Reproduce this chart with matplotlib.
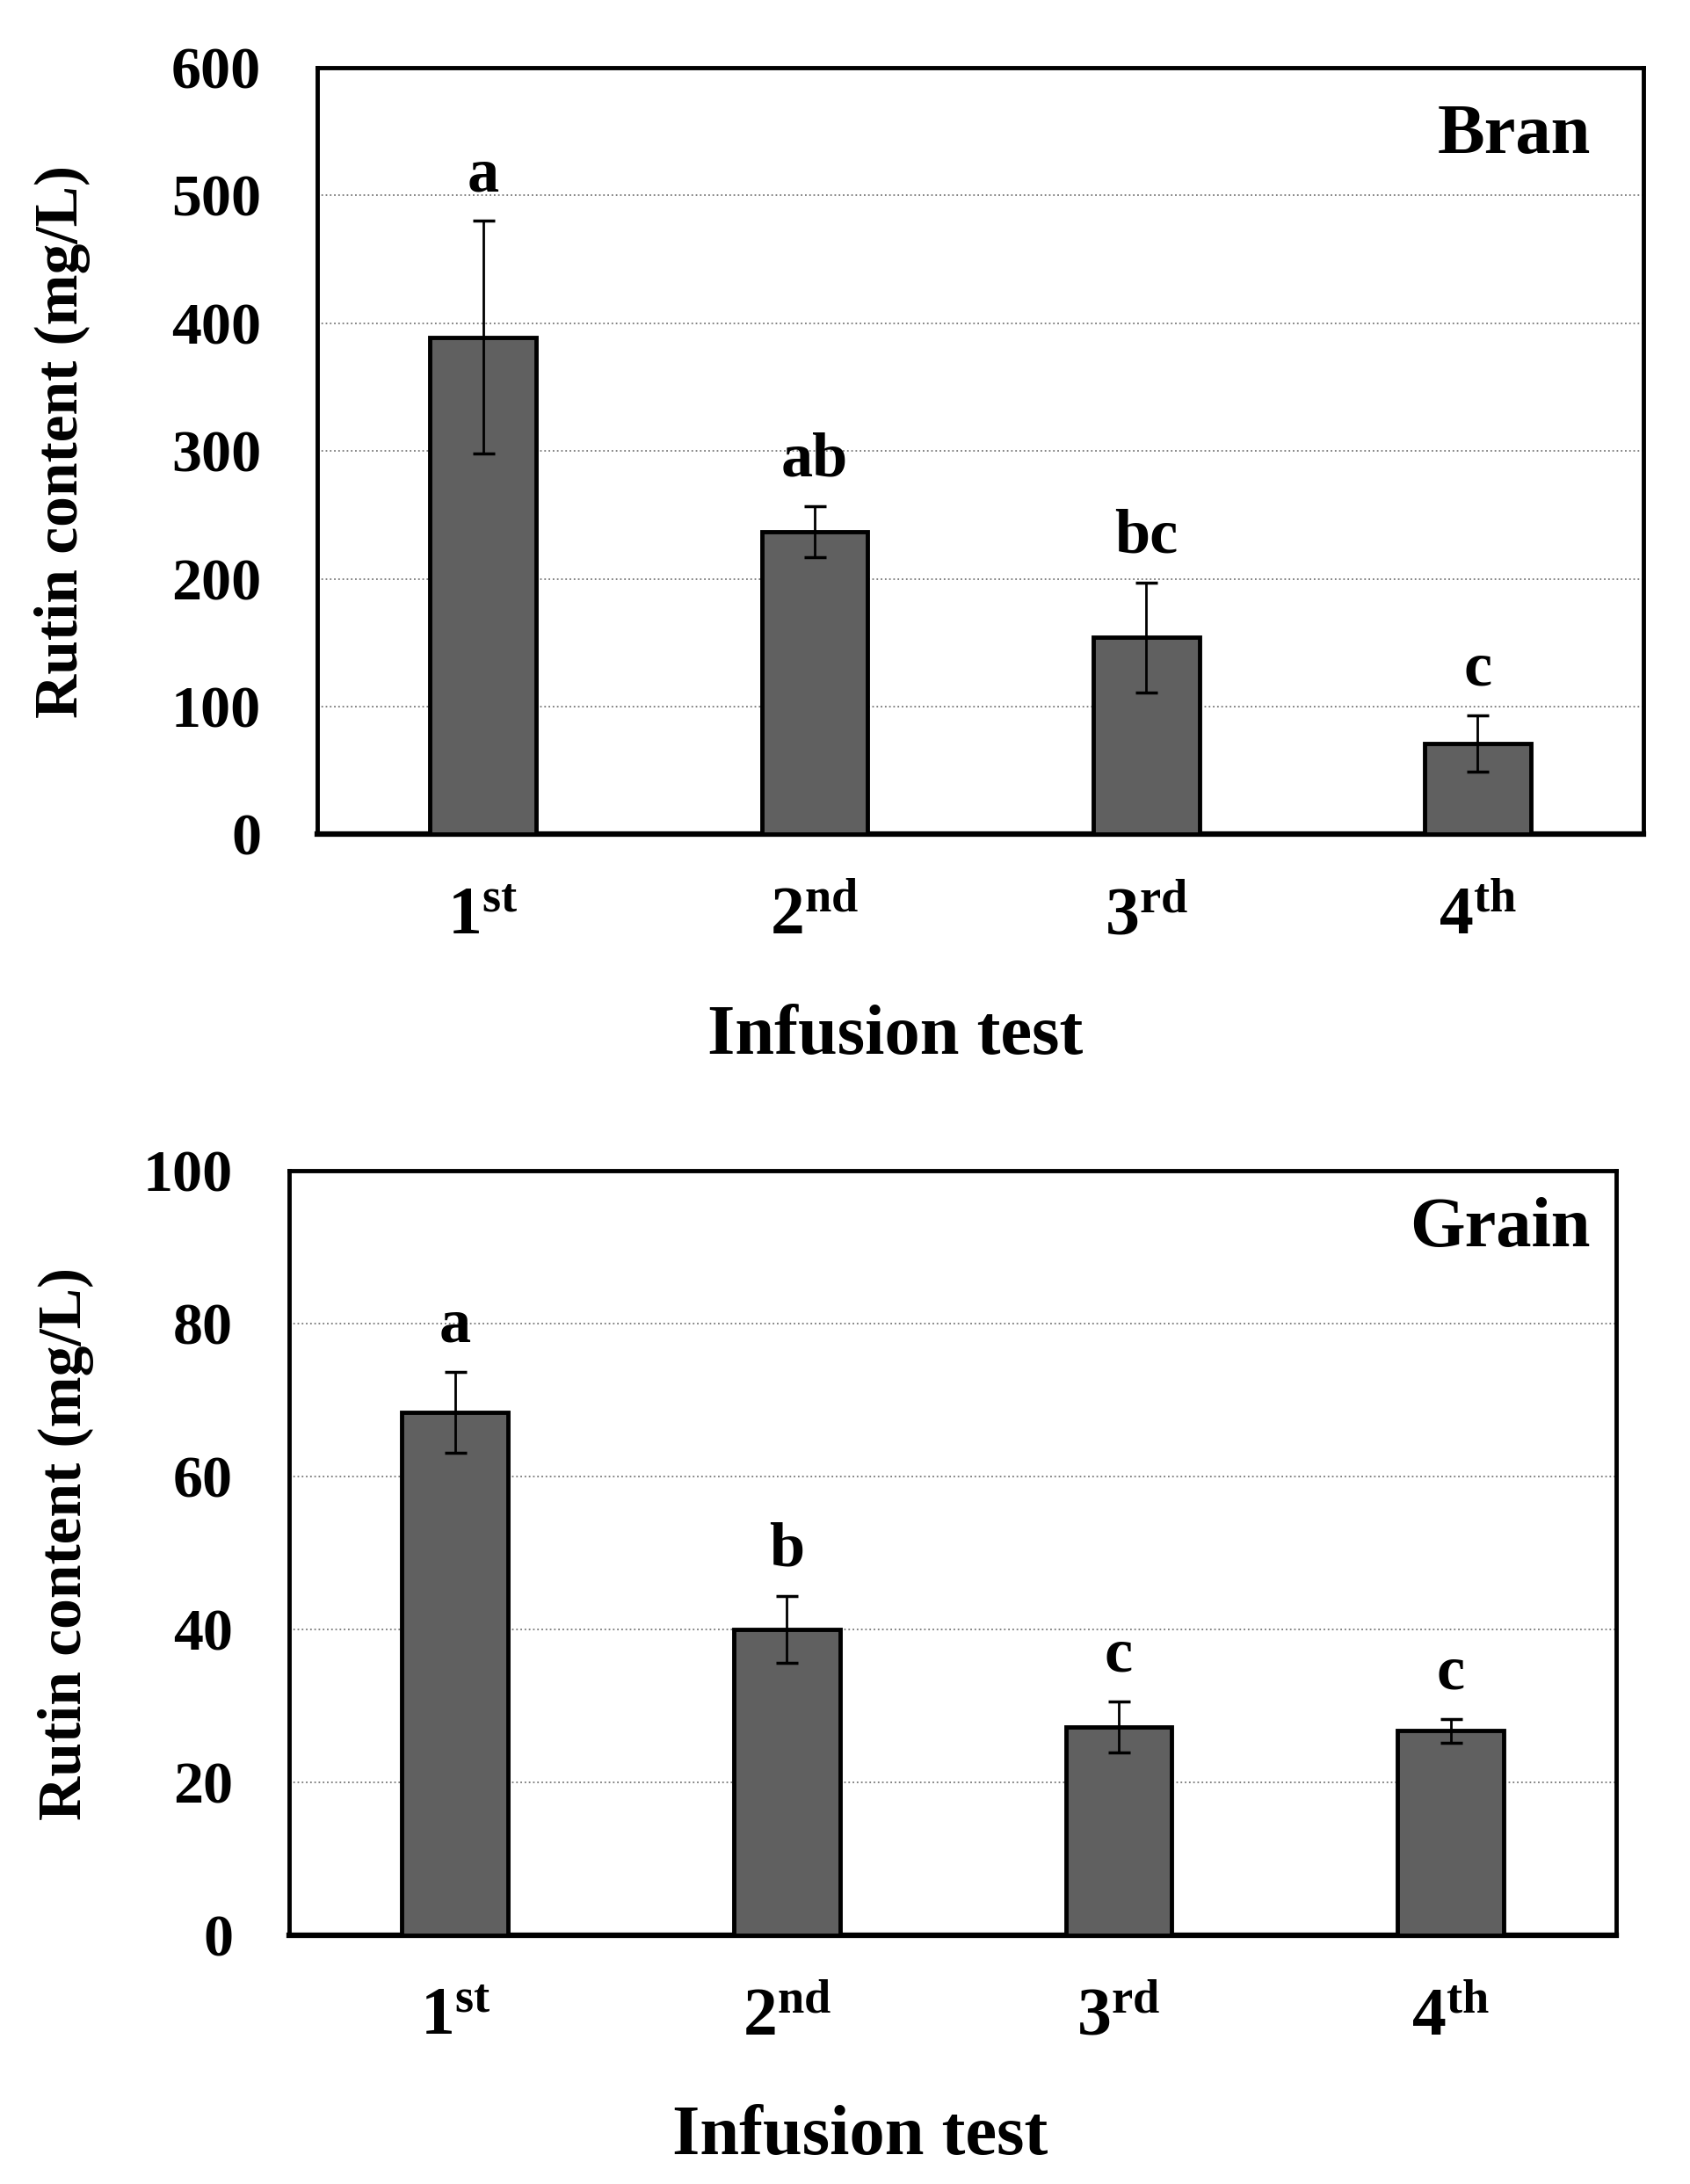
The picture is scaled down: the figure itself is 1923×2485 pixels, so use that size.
import numpy as np
import matplotlib
matplotlib.use('Agg')
import matplotlib.pyplot as plt

plt.rcParams['font.family'] = ['Liberation Serif', 'DejaVu Serif']
plt.rcParams['font.weight'] = 'bold'
plt.rcParams['mathtext.fontset'] = 'custom'
plt.rcParams['mathtext.rm'] = 'Liberation Serif:bold'
plt.rcParams['mathtext.bf'] = 'Liberation Serif:bold'
plt.rcParams['mathtext.it'] = 'Liberation Serif:bold'

# data
tests = [r'$\mathbf{1^{st}}$', r'$\mathbf{2^{nd}}$', r'$\mathbf{3^{rd}}$', r'$\mathbf{4^{th}}$']

bran_mean = [389, 237, 154, 71]
bran_err = [91, 20, 43, 22]
bran_letters = ['a', 'ab', 'bc', 'c']

grain_mean = [68.4, 40.0, 27.2, 26.7]
grain_err = [5.3, 4.4, 3.3, 1.5]
grain_letters = ['a', 'b', 'c', 'c']

fig = plt.figure(figsize=(19.24, 24.85), dpi=100)
ax1 = fig.add_axes([0.1876, 0.618, 0.7844, 0.351])
ax2 = fig.add_axes([0.171, 0.114, 0.785, 0.350])


def panel(ax, mean, err, letters, ymax, step, name, name_x, name_y, ylab_x, xlab_x):
    x = np.arange(len(mean))
    ax.bar(x, mean, width=0.32, color='#606060', edgecolor='black', linewidth=3.5, zorder=3)
    ax.errorbar(x, mean, yerr=err, fmt='none', ecolor='black', elinewidth=2,
                capsize=9, capthick=2.5, zorder=4)
    for xi, m, e, lab in zip(x, mean, err, letters):
        ax.annotate(lab, (xi, m + e), xytext=(0, 14), textcoords='offset points',
                    ha='center', va='bottom', fontsize=52, fontweight='bold')
    ax.set_xlim(-0.5, len(mean) - 0.5)
    ax.set_ylim(0, ymax)
    ax.set_yticks(np.arange(0, ymax + 1, step))
    ax.set_xticks(x)
    ax.set_xticklabels(tests)
    ax.yaxis.grid(True, linestyle=':', color='#777777', linewidth=1.3, zorder=0)
    ax.set_axisbelow(True)
    ax.tick_params(axis='y', length=0, pad=46, labelsize=49)
    ax.tick_params(axis='x', length=0, pad=43, labelsize=56)
    for s in ['left', 'top', 'right']:
        ax.spines[s].set_linewidth(3.5)
    ax.spines['bottom'].set_linewidth(4.5)
    ax.set_ylabel('Rutin content (mg/L)', fontsize=50, fontweight='bold')
    ax.yaxis.set_label_coords(ylab_x, 0.512)
    ax.set_xlabel('Infusion test', fontsize=58, fontweight='bold')
    ax.xaxis.set_label_coords(xlab_x, -0.222)
    ax.text(name_x, name_y, name, transform=ax.transAxes, ha='right', va='center',
            fontsize=58, fontweight='bold')


panel(ax1, bran_mean, bran_err, bran_letters, 600, 100, 'Bran', 0.96, 0.911, -0.171, 0.436)
panel(ax2, grain_mean, grain_err, grain_letters, 100, 20, 'Grain', 0.98, 0.923, -0.147, 0.43)

fig.savefig('out.png', dpi=100)
